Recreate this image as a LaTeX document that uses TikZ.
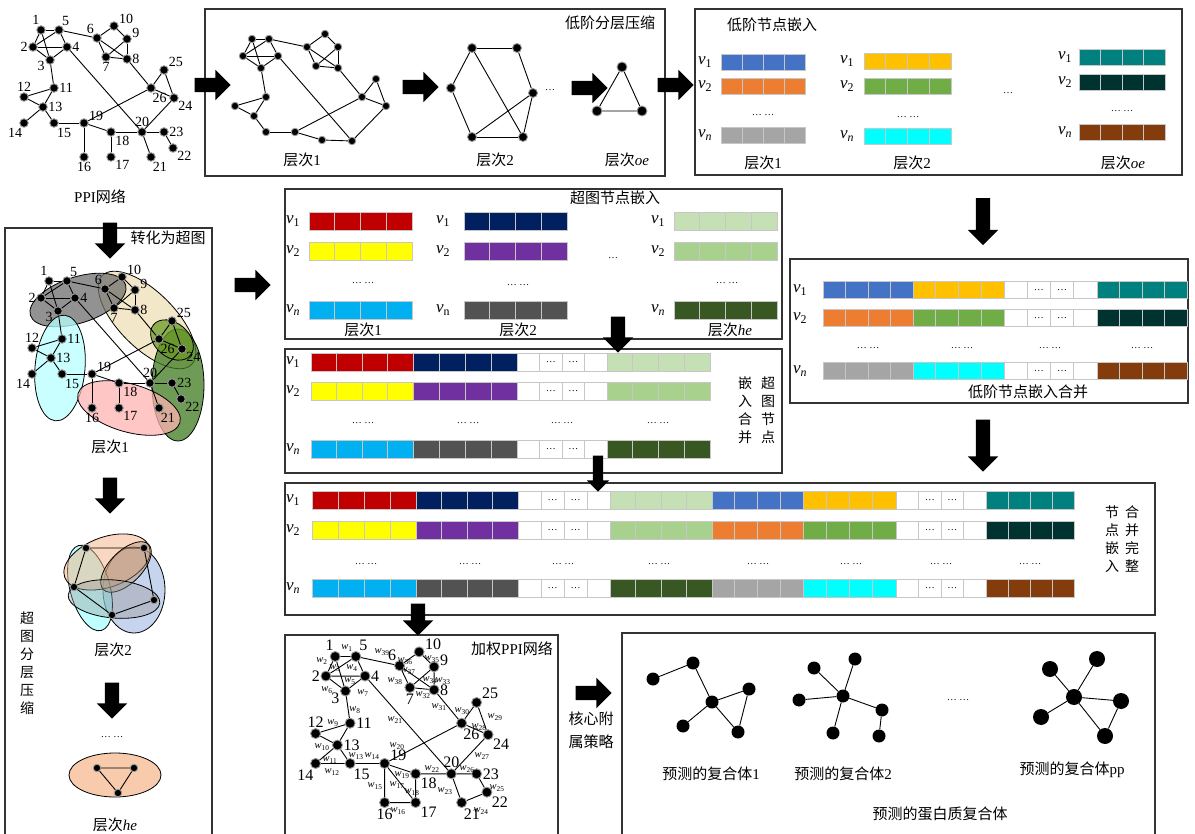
\documentclass[tikz,border=0pt]{standalone}
\usepackage{fontspec}
\setmainfont{Liberation Serif}
\newfontfamily\cjk{Noto Sans CJK SC}
\usetikzlibrary{shapes.arrows,positioning}

\definecolor{lowA}{HTML}{4472C4}
\definecolor{lowB}{HTML}{ED7D31}
\definecolor{lowC}{HTML}{A5A5A5}
\definecolor{lowD}{HTML}{FFC000}
\definecolor{lowE}{HTML}{70AD47}
\definecolor{lowF}{HTML}{00FFFF}
\definecolor{lowG}{HTML}{00807F}
\definecolor{lowH}{HTML}{003330}
\definecolor{lowI}{HTML}{843C0C}
\definecolor{hypA}{HTML}{C00000}
\definecolor{hypB}{HTML}{FFFF00}
\definecolor{hypC}{HTML}{00B0F0}
\definecolor{hypD}{HTML}{002060}
\definecolor{hypE}{HTML}{7030A0}
\definecolor{hypF}{HTML}{525252}
\definecolor{hypG}{HTML}{C5E0B4}
\definecolor{hypH}{HTML}{A9D18E}
\definecolor{hypI}{HTML}{385723}
\definecolor{egGray}{HTML}{6E6E6E}
\definecolor{egBeige}{HTML}{EFE0B8}
\definecolor{egCyan}{HTML}{B8FFFF}
\definecolor{egGreen}{HTML}{3E7B20}
\definecolor{egPink}{HTML}{FFB3B3}
\definecolor{egOlive}{HTML}{6A9A26}
\definecolor{egPeach}{HTML}{F4B183}
\definecolor{egSteel}{HTML}{8FAADC}
\definecolor{egAqua}{HTML}{7FFFFF}
\definecolor{egTan}{HTML}{B08A66}
\definecolor{egSilver}{HTML}{9A9A9A}
\definecolor{egShell}{HTML}{F8CBAD}

\newcommand\zh[1]{{\cjk #1}}
\newcommand\vv[1]{\textit{v}\textsubscript{\if n#1\textit{n}\else #1\fi}}
\newcommand\ww[1]{\textit{w}\textsubscript{#1}}

\tikzset{
    %block arrows between the panels
    fatarrow/.style={
      single arrow, fill=black,
      inner xsep=0pt, inner ysep=7pt,
      single arrow head extend=8pt,
      single arrow head indent=0pt,
      minimum height=36pt},
    panel/.style={draw=black!80, line width=1.1pt},
    prot/.style={
      circle, fill=black,
      draw=black!40, line width=0.9pt,
      inner sep=0pt, minimum size=8.5pt},
    link/.style={black, line width=0.9pt},
    cell/.style={draw=black!22, line width=0.7pt},
    lbl/.style={inner sep=0.5pt, font=\fontsize{14}{14}\selectfont},
    wlbl/.style={inner sep=0pt, font=\fontsize{10.5}{10.5}\selectfont},
    rowlbl/.style={inner sep=0pt, font=\fontsize{17}{17}\selectfont},
    dots/.style={inner sep=0pt, font=\fontsize{10}{10}\selectfont},
    hedge/.style={draw=black, line width=0.8pt, fill opacity=0.75},
    cnode/.style={circle, fill=black, inner sep=0pt, minimum size=13pt},
    vtext/.style={align=center, font=\cjk\fontsize{14}{18}\selectfont}
}

% four cells of one embedding vector: x, centre y, cell width, height, colour
\newcommand\cellrow[5]{%
  \foreach \k in {0,1,2,3}
    \draw[cell, fill=#5] ({#1+\k*#3},{#2-#4/2}) rectangle ++(#3,#4);}
% a whole row of vectors: y, height, list x/width/colour
\newcommand\embline[3]{%
  \foreach \x/\w/\cc in {#3}
    {\cellrow{\x}{#1}{\w}{#2}{\cc}}}
% dots in the empty cells: x, cell width, y
\newcommand\gapdots[3]{%
  \node[dots] at ({#1+1.5*#2},#3) {…};
  \node[dots] at ({#1+2.5*#2},#3) {…};}

% the protein network, used three times
\newcommand\ppinodes{1/41/30/100, 5/59/30/60, 2/33/47/180, 4/67/47/0,
  3/50/60/190, 6/97/38/120, 10/114/26/15, 9/127/39/10, 7/106/57/270,
  8/127/59/0, 25/164/70/30, 26/151/88/280, 24/174/98/-40, 11/54/88/0,
  12/24/97/90, 13/43/107/0, 14/24/123/255, 15/54/123/-60, 19/84/123/20,
  18/111/132/-40, 20/142/132/90, 23/164/132/0, 22/173/148/-40,
  21/151/157/-75, 17/111/157/-40, 16/84/157/270}
\newcommand\ppilinks{1/5, 1/2, 1/3, 2/5, 2/4, 2/3, 5/4, 4/3, 5/6, 6/10,
  10/9, 9/8, 6/8, 6/7, 9/7, 7/8, 3/11, 4/20, 8/26, 26/25, 25/24, 26/24,
  26/19, 24/20, 11/12, 11/13, 12/13, 13/14, 13/15, 15/19, 19/16, 19/18,
  18/17, 18/20, 20/21, 20/23, 23/22}
\newcommand\ppinet[1]{%
  \foreach \n/\px/\py/\la in \ppinodes
    {\node[prot, label={[lbl]\la:\n}] (#1\n) at (\px,\py) {};}
  \foreach \a/\b in \ppilinks
    {\draw[link] (#1\a) -- (#1\b);}}

\begin{document}
\begin{tikzpicture}[x=1pt,y=-1pt,font=\fontsize{15}{17}\selectfont]
\useasboundingbox (0,0) rectangle (1195,834);
\fill[white] (0,0) rectangle (1195,834);

% panels
\draw[panel] (205,9) rectangle (665,176);
\draw[panel] (695,9) rectangle (1182,175);
\draw[panel] (5,840) |- (212,228) -- (212,840);
\draw[panel] (285,189) rectangle (782,339);
\draw[panel] (285,349) rectangle (782,473);
\draw[panel] (790,259) rectangle (1188,403);
\draw[panel] (285,483) rectangle (1155,615);
\draw[panel] (285,840) |- (558,635) -- (558,840);
\draw[panel] (622,840) |- (1155,633) -- (1155,840);

% PPI network
\ppinet{p}
\node (ppiname) at (100,197) {PPI\zh{网络}};

% low order compression
\foreach \n/\px/\py in {1/252/39, 2/269/39, 3/243/56, 4/278/56, 5/261/68,
  6/325/34, 7/307/47, 8/338/47, 9/316/66, 10/338/68, 11/266/97,
  12/235/106, 13/254/116, 14/266/132, 15/295/132, 16/322/140, 17/352/141,
  18/362/97, 19/376/79, 20/386/106}
  \node[prot, minimum size=7.5pt] (c\n) at (\px,\py) {};
\foreach \a/\b in {1/2, 1/3, 1/5, 3/2, 3/4, 3/5, 2/4, 4/5, 2/7, 7/6, 6/8,
  8/10, 7/10, 7/9, 8/9, 9/10, 5/11, 4/17, 10/18, 18/19, 19/20, 18/20,
  20/17, 18/15, 11/12, 11/13, 12/13, 13/14, 14/15, 15/16, 16/17}
  \draw[link] (c\a) -- (c\b);
\foreach \n/\px/\py in {1/472/48, 2/517/48, 3/451/88, 4/533/93, 5/472/137, 6/523/137}
  \node[prot, minimum size=9pt] (s\n) at (\px,\py) {};
\foreach \a/\b in {1/2, 1/3, 2/4, 3/5, 4/6, 5/6, 1/6, 5/4}
  \draw[link] (s\a) -- (s\b);
\foreach \n/\px/\py in {1/622/67, 2/597/111, 3/642/111}
  \node[prot, minimum size=10pt] (t\n) at (\px,\py) {};
\draw[link] (t1) -- (t2) -- (t3) -- (t1);
\node[dots] (hexdots) at (550,90) {…};
\node (lowtitle) at (610,23) {\zh{低阶分层压缩}};
\node (lowone) at (302,160) {\zh{层次}1};
\node (lowtwo) at (495,160) {\zh{层次}2};
\node (lowoe) at (627,160) {\zh{层次}\textit{oe}};

% low order node embedding
\node (embtitle) at (772,25) {\zh{低阶节点嵌入}};
\foreach \x/\w/\y/\cc in {721/21/62/lowA, 721/21/86/lowB, 721/21/135/lowC,
  864/21.75/61/lowD, 864/21.75/86/lowE, 864/21.75/136/lowF,
  1079/21.5/57/lowG, 1079/21.5/82/lowH, 1079/21.5/132/lowI}
  {\cellrow{\x}{\y}{\w}{16}{\cc}}
\foreach \px/\py/\s in {705/62/1, 705/86/2, 705/135/n, 847/61/1, 847/86/2,
  847/136/n, 1065/57/1, 1065/82/2, 1065/132/n}
  \node[rowlbl] at (\px,\py) {\vv{\s}};
\foreach \px/\py in {763/115, 908/117, 1122/111}
  \node[dots] at (\px,\py) {… …};
\node[dots] (embdots) at (1008,93) {…};
\node (embone) at (763,163) {\zh{层次}1};
\node (embtwo) at (912,163) {\zh{层次}2};
\node (emboe) at (1123,163) {\zh{层次}\textit{oe}};

% hypergraph, level 1
\draw[hedge, fill=egBeige, rotate around={-45:(147,320)}] (147,320) ellipse [x radius=63, y radius=28];
\draw[hedge, fill=egGray, rotate around={18:(78,300)}] (78,300) ellipse [x radius=50, y radius=23];
\draw[hedge, fill=egCyan, rotate around={-5:(60,368)}] (60,368) ellipse [x radius=25, y radius=53];
\draw[hedge, fill=egGreen] (178,385) ellipse [x radius=26, y radius=56];
\draw[hedge, fill=egPink, rotate around={-16:(129,408)}] (129,408) ellipse [x radius=53, y radius=24];
\draw[hedge, fill=egOlive, rotate around={-40:(172,340)}] (172,340) ellipse [x radius=24, y radius=17];
\begin{scope}[shift={(8,251)}]
  \ppinet{h}
\end{scope}
\node (hgone) at (110,447) {\zh{层次}1};
\node (tohg) at (168,238) {\zh{转化为超图}};

% hypergraph, level 2
\draw[hedge, fill=egSteel, fill opacity=0.5] (134,590) ellipse [x radius=31, y radius=43];
\draw[hedge, fill=egAqua, fill opacity=0.5, rotate around={15:(90,588)}] (90,588) ellipse [x radius=20, y radius=44];
\draw[hedge, fill=egPeach, fill opacity=0.5, rotate around={20:(107,562)}] (107,562) ellipse [x radius=45, y radius=25];
\draw[hedge, fill=egTan, fill opacity=0.4, rotate around={45:(126,567)}] (126,567) ellipse [x radius=32, y radius=16];
\draw[hedge, fill=egSilver, fill opacity=0.4, rotate around={-5:(114,599)}] (114,599) ellipse [x radius=46, y radius=19];
\foreach \n/\px/\py in {1/86/548, 2/144/548, 3/74/587, 4/154/600, 5/112/615}
  \node[prot, minimum size=7.5pt] (g\n) at (\px,\py) {};
\draw[link] (g1) -- (g2) -- (g4) -- (g5) -- (g3) -- (g1);
\node (hgtwo) at (113,650) {\zh{层次}2};
\node[dots] (hgdots) at (112,737) {… …};

% hypergraph, level he
\draw[hedge, fill=egShell, fill opacity=1] (115,775) ellipse [x radius=46, y radius=22];
\foreach \n/\px/\py in {1/97/768, 2/134/768, 3/118/793}
  \node[prot, minimum size=7.5pt] (e\n) at (\px,\py) {};
\draw[link] (e1) -- (e2) -- (e3) -- (e1);
\node (hghe) at (115,825) {\zh{层次}\textit{he}};
\node[vtext] (hgside) at (27,663) {超\\图\\分\\层\\压\\缩};

% hypergraph node embedding
\node (hyptitle) at (615,198) {\zh{超图节点嵌入}};
\foreach \x/\y/\cc in {309/221/hypA, 309/251/hypB, 309/310/hypC,
  464/221/hypD, 464/251/hypE, 464/310/hypF,
  674/221/hypG, 674/251/hypH, 674/310/hypI}
  {\cellrow{\x}{\y}{25.75}{18}{\cc}}
\foreach \px/\py/\s in {293/221/1, 293/251/2, 293/310/n, 443/221/1,
  443/251/2, 658/221/1, 658/251/2, 658/310/n}
  \node[rowlbl] at (\px,\py) {\vv{\s}};
\node[rowlbl] at (443,310) {\textit{v}\textsubscript{n}};
\foreach \px/\py in {363/283, 518/285, 727/283}
  \node[dots] at (\px,\py) {… …};
\node[dots] (hypdots) at (613,258) {…};
\node (hypone) at (363,330) {\zh{层次}1};
\node (hyptwo) at (518,330) {\zh{层次}2};
\node (hyphe) at (730,330) {\zh{层次}\textit{he}};

% merged hypergraph embedding
\embline{362}{18}{311/25.5/hypA, 413/26/hypD, 517/22.5/white, 607/25.75/hypG}
\embline{391}{18}{311/25.5/hypB, 413/26/hypE, 517/22.5/white, 607/25.75/hypH}
\embline{449}{18}{311/25.5/hypC, 413/26/hypF, 517/22.5/white, 607/25.75/hypI}
\foreach \py in {362, 391, 449} {\gapdots{517}{22.5}{\py}}
\foreach \px/\py/\s in {293/362/1, 293/391/2, 293/449/n}
  \node[rowlbl] at (\px,\py) {\vv{\s}};
\foreach \px in {363, 468, 562, 658}
  \node[dots] at (\px,423) {… …};
\node[vtext] (mergeR) at (768,410) {超\\图\\节\\点};
\node[vtext] (mergeL) at (745,410) {嵌\\入\\合\\并};

% merged low order embedding
\embline{290}{17}{823/22.5/lowA, 913/22.75/lowD, 1004/23.25/white, 1097/22.5/lowG}
\embline{318}{17}{823/22.5/lowB, 913/22.75/lowE, 1004/23.25/white, 1097/22.5/lowH}
\embline{371}{17}{823/22.5/lowC, 913/22.75/lowF, 1004/23.25/white, 1097/22.5/lowI}
\foreach \py in {290, 318, 371} {\gapdots{1004}{23.25}{\py}}
\foreach \px/\py/\s in {800/290/1, 800/318/2, 800/371/n}
  \node[rowlbl] at (\px,\py) {\vv{\s}};
\foreach \px in {868, 962, 1050, 1142}
  \node[dots] at (\px,348) {… …};
\node (lowmerge) at (1028,392) {\zh{低阶节点嵌入合并}};

% complete embedding
\embline{500}{18}{312/26/hypA, 416/25.5/hypD, 518/23/white, 610/25.5/hypG,
  712/22.75/lowA, 803/23.25/lowD, 896/22.5/white, 986/22/lowG}
\embline{530}{18}{312/26/hypB, 416/25.5/hypE, 518/23/white, 610/25.5/hypH,
  712/22.75/lowB, 803/23.25/lowE, 896/22.5/white, 986/22/lowH}
\embline{588}{18}{312/26/hypC, 416/25.5/hypF, 518/23/white, 610/25.5/hypI,
  712/22.75/lowC, 803/23.25/lowF, 896/22.5/white, 986/22/lowI}
\foreach \py in {500, 530, 588} {\gapdots{518}{23}{\py} \gapdots{896}{22.5}{\py}}
\foreach \px/\py/\s in {293/500/1, 293/530/2, 293/588/n}
  \node[rowlbl] at (\px,\py) {\vv{\s}};
\foreach \px in {366, 470, 563, 659, 758, 851, 941, 1030}
  \node[dots] at (\px,564) {… …};
\node[vtext] (fullR) at (1132,539) {合\\并\\完\\整};
\node[vtext] (fullL) at (1112,539) {节\\点\\嵌\\入};

% weighted PPI network
\begin{scope}[shift={(288,622)}, scale=1.15,
    prot/.append style={minimum size=10pt},
    lbl/.style={inner sep=0.5pt, font=\fontsize{16}{16}\selectfont}]
  \ppinet{w}
  \foreach \a/\b in {14/15, 16/17, 19/17, 21/22}
    \draw[link] (w\a) -- (w\b);
\end{scope}
\foreach \k/\px/\py in {1/347/648, 2/322/661, 3/335/668, 4/352/668,
  5/350/681, 6/327/690, 7/363/693, 8/355/710, 9/333/723, 10/322/747,
  11/330/760, 12/332/772, 13/356/756, 14/372/756, 15/375/786, 16/398/811,
  17/397/785, 18/412/792, 19/402/775, 20/397/746, 21/395/720, 22/432/769,
  23/445/791, 24/481/811, 25/497/788, 26/467/769, 27/482/756, 28/479/727,
  29/495/717, 30/462/711, 31/439/707, 32/423/695, 33/443/681, 34/430/680,
  35/432/659, 36/405/661, 37/408/671, 38/395/681, 39/382/652}
  \node[wlbl] at (\px,\py) {\ww{\k}};
\node (wtitle) at (512,649) {\zh{加权}PPI\zh{网络}};
\node[align=center, font=\cjk\fontsize{15}{23}\selectfont] (strategy) at (591,730) {核心附\\属策略};

% predicted complexes
\foreach \n/\px/\py in {1/653/679, 2/693/663, 3/712/702, 4/749/689, 5/683/726, 6/738/732}
  \node[cnode] (k\n) at (\px,\py) {};
\foreach \a/\b in {1/2, 2/3, 3/4, 3/5, 3/6, 4/6}
  \draw[link] (k\a) -- (k\b);
\foreach \n/\px/\py in {1/814/668, 2/855/659, 3/799/700, 4/843/696, 5/882/710, 6/833/733, 7/879/736}
  \node[cnode] (m\n) at (\px,\py) {};
\foreach \a/\b in {4/1, 4/2, 4/3, 4/5, 4/6, 5/7}
  \draw[link] (m\a) -- (m\b);
\foreach \n/\px/\py in {1/1097/659, 2/1050/669, 3/1074/697, 4/1121/701, 5/1041/717, 6/1105/736}
  \node[cnode, minimum size=16pt] (q\n) at (\px,\py) {};
\foreach \a/\b in {3/1, 3/2, 3/4, 3/5, 3/6, 4/6}
  \draw[link] (q\a) -- (q\b);
\node[dots] (cpdots) at (958,700) {… …};
\node (cpone) at (711,774) {\zh{预测的复合体}1};
\node (cptwo) at (843,774) {\zh{预测的复合体}2};
\node (cppp) at (1072,770) {\zh{预测的复合体}pp};
\node (cptitle) at (940,814) {\zh{预测的蛋白质复合体}};

% block arrows
\node[fatarrow] (toA) at (209,85) {};
\node[fatarrow] (lv12) at (417,87) {};
\node[fatarrow] (lv2oe) at (586,88) {};
\node[fatarrow] (toB) at (672,85) {};
\node[fatarrow, rotate=-90] (toC) at (110,237) {};
\node[fatarrow, rotate=-90] (hg12) at (110,492) {};
\node[fatarrow, rotate=-90] (hg2he) at (112,697) {};
\node[fatarrow] (toD) at (249,285) {};
\node[fatarrow, rotate=-90, minimum height=47pt] (toF) at (983,218) {};
\node[fatarrow, rotate=-90] (toE) at (618,331) {};
\node[fatarrow, rotate=-90, inner ysep=5pt, single arrow head extend=6pt] (toG1) at (598,471) {};
\node[fatarrow, rotate=-90, minimum height=52pt] (toG2) at (983,442) {};
\node[fatarrow, rotate=-90, minimum height=32pt] (toW) at (418,616) {};
\node[fatarrow] (toP) at (590,693) {};
\end{tikzpicture}
\end{document}
